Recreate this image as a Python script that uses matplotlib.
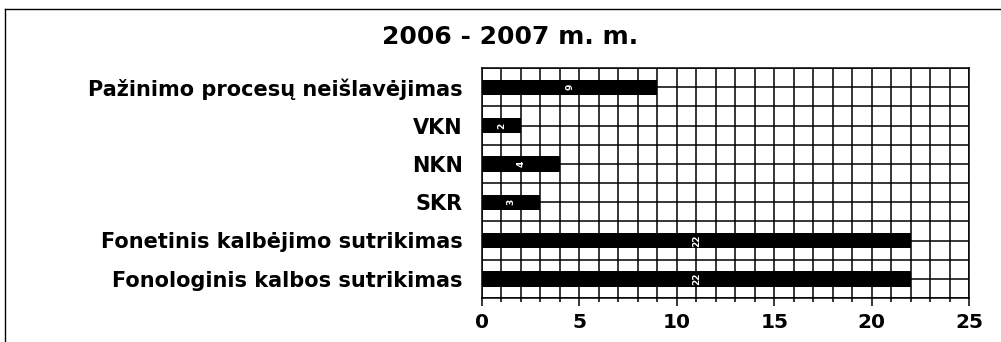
import matplotlib.pyplot as plt
from matplotlib.lines import Line2D
import numpy as np

categories = [
    "Pažinimo procesų neišlavėjimas",
    "VKN",
    "NKN",
    "SKR",
    "Fonetinis kalbėjimo sutrikimas",
    "Fonologinis kalbos sutrikimas",
]
values = [9, 2, 4, 3, 22, 22]
x_ticks = [0, 5, 10, 15, 20, 25]
title = "2006 - 2007 m. m."

plt.rcParams['font.family'] = ['DejaVu Sans']

fig = plt.figure(figsize=(10.01, 3.42), dpi=100)
ax = fig.add_axes([482 / 1001, 1 - 298 / 342, 487 / 1001, 230 / 342])

y = np.arange(len(categories))
ax.barh(y, values, height=0.4, color='black', zorder=3)

for yi, v in zip(y, values):
    ax.text(v / 2, yi, str(v), color='white', fontsize=6.5, fontweight='bold',
            rotation=90, ha='center', va='center', zorder=4)

ax.set_xlim(0, 25)
ax.set_ylim(len(categories) - 0.5, -0.5)

# square grid: one line per unit across, two per category down
for gx in np.arange(0, 26, 1):
    ax.axvline(gx, color='black', lw=1.1, zorder=1)
for gy in np.arange(-0.5, len(categories), 0.5):
    ax.axhline(gy, color='black', lw=1.1, zorder=1)

ax.set_xticks(x_ticks)
ax.set_xticks(np.arange(0, 26, 1), minor=True)
ax.set_xticklabels([str(t) for t in x_ticks], fontsize=14.5, fontweight='bold')
ax.tick_params(axis='x', which='major', length=6, width=1.1, pad=5)
ax.tick_params(axis='x', which='minor', length=3, width=1.1)

ax.set_yticks(y)
ax.set_yticklabels(categories, fontsize=15, fontweight='bold')
ax.tick_params(axis='y', length=0, pad=14)

for s in ax.spines.values():
    s.set_linewidth(1.1)
    s.set_color('black')

fig.text(510 / 1001, 1 - 37 / 342, title, ha='center', va='center',
         fontsize=18, fontweight='bold')

# outer frame lines (left and top)
fig.add_artist(Line2D([5 / 1001, 5 / 1001], [0, 1 - 9 / 342],
                      color='black', lw=1.0, transform=fig.transFigure))
fig.add_artist(Line2D([5 / 1001, 1000 / 1001], [1 - 9 / 342, 1 - 9 / 342],
                      color='black', lw=1.0, transform=fig.transFigure))

fig.savefig('out.png', dpi=100)
